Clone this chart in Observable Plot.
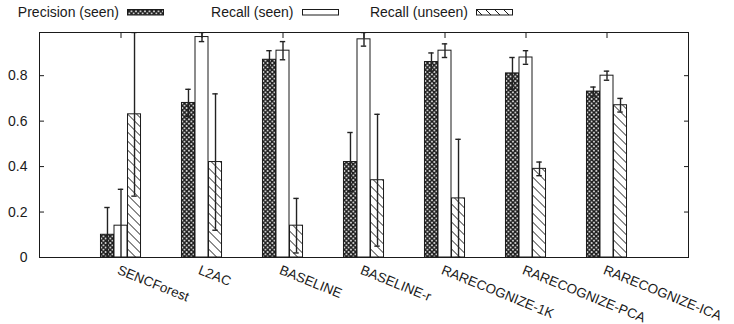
<!DOCTYPE html>
<html>
<head>
<meta charset="utf-8">
<script src="https://cdn.jsdelivr.net/npm/d3@7"></script>
<script src="https://cdn.jsdelivr.net/npm/@observablehq/plot@0.6"></script>
<style>
  body { margin: 0; background: white; }
  #wrap { position: relative; width: 734px; height: 324px; overflow: hidden; font-family: "Liberation Sans", Arial, Helvetica, sans-serif; color: #1a1a1a; }
  #legend { position: absolute; top: 0; left: 0; width: 734px; height: 26px; }
  .item { position: absolute; top: 4px; display: flex; align-items: center; font-size: 14px; line-height: 16px; white-space: nowrap; }
  .item svg { margin-left: 8px; }
</style>
</head>
<body>
<svg width="0" height="0" style="position:absolute">
  <defs>
    <pattern id="xhatch" patternUnits="userSpaceOnUse" width="4.5" height="4.5">
      <rect width="4.5" height="4.5" fill="white"/>
      <path d="M0,0L4.5,4.5M4.5,0L0,4.5" stroke="#1a1a1a" stroke-width="1.5"/>
    </pattern>
    <pattern id="dhatch" patternUnits="userSpaceOnUse" width="9" height="9">
      <rect width="9" height="9" fill="white"/>
      <path d="M0,0L9,9M-2,7L2,11M7,-2L11,2" stroke="#1a1a1a" stroke-width="1"/>
    </pattern>
  </defs>
</svg>
<div id="wrap">
  <div id="legend"></div>
  <div id="chart"></div>
</div>
<script>
// ---- data ----
const categories = ["SENCForest", "L2AC", "BASELINE", "BASELINE-r", "RARECOGNIZE-1K", "RARECOGNIZE-PCA", "RARECOGNIZE-ICA"];
const seriesNames = ["Precision (seen)", "Recall (seen)", "Recall (unseen)"];
const precisionSeen    = [0.10, 0.68, 0.87, 0.42, 0.86, 0.81, 0.73];
const precisionSeenErr = [0.12, 0.06, 0.04, 0.13, 0.04, 0.07, 0.02];
const recallSeen       = [0.14, 0.97, 0.91, 0.96, 0.91, 0.88, 0.80];
const recallSeenErr    = [0.16, 0.02, 0.04, 0.03, 0.03, 0.03, 0.02];
const recallUnseen     = [0.63, 0.42, 0.14, 0.34, 0.26, 0.39, 0.67];
const recallUnseenErr  = [0.36, 0.30, 0.12, 0.29, 0.26, 0.03, 0.03];
const yTicks = [0, 0.2, 0.4, 0.6, 0.8];
const yMax = 0.99;

// ---- table ----
const seriesValues = [precisionSeen, recallSeen, recallUnseen];
const seriesErrs = [precisionSeenErr, recallSeenErr, recallUnseenErr];
const rows = [];
seriesNames.forEach((s, j) => categories.forEach((c, i) => rows.push({
  category: c, series: s, j, value: seriesValues[j][i], err: seriesErrs[j][i]
})));

// ---- layout ----
const W = 734, H = 324, mL = 39, mR = 46, mT = 32, mB = 67;
const step = (W - mL - mR) / 8;
const bw = step / 6;
const fills = ["url(#xhatch)", "white", "url(#dhatch)"];
const ink = "#1a1a1a";

// ---- legend ----
const legend = document.getElementById("legend");
const rightEdges = [164, 338.5, 513];
seriesNames.forEach((s, j) => {
  const it = document.createElement("div");
  it.className = "item";
  it.style.right = (W - rightEdges[j]) + "px";
  it.innerHTML = `<span>${s}</span><svg width="37" height="7"><rect x="0.5" y="0.5" width="36" height="5.5" fill="${fills[j]}" stroke="${ink}" stroke-width="1"/></svg>`;
  legend.appendChild(it);
});

const sel = j => rows.filter(d => d.j === j);
const marks = [
  Plot.axisX({anchor: "bottom", tickSize: -5, tickFormat: () => "", label: null, stroke: ink}),
  ...seriesNames.map((s, j) => Plot.barY(sel(j), {
    x: "category", y: "value", dx: (j - 1) * bw, fill: fills[j], stroke: ink, strokeWidth: 1
  })),
  ...seriesNames.map((s, j) => Plot.ruleX(sel(j), {
    x: "category", y1: d => d.value - d.err, y2: d => d.value + d.err,
    dx: (j - 1) * bw, stroke: "#222", strokeWidth: 1.4, clip: true
  })),
  ...seriesNames.map((s, j) => Plot.tickY(sel(j), {
    x: "category", y: d => d.value + d.err, dx: (j - 1) * bw,
    insetLeft: 3.8, insetRight: 3.8, stroke: "#222", strokeWidth: 1.4, clip: true
  })),
  ...seriesNames.map((s, j) => Plot.tickY(sel(j), {
    x: "category", y: d => d.value - d.err, dx: (j - 1) * bw,
    insetLeft: 3.8, insetRight: 3.8, stroke: "#222", strokeWidth: 1.4, clip: true
  })),
  Plot.axisY({anchor: "left", ticks: yTicks, tickSize: -5, tickPadding: 17, tickFormat: d => String(d), label: null, fontSize: 14, stroke: ink, fill: ink}),
  Plot.axisY({anchor: "right", ticks: yTicks, tickSize: -5, tickFormat: () => "", label: null, stroke: ink}),
  Plot.axisX({anchor: "top", tickSize: -5, tickFormat: () => "", label: null, stroke: ink}),
  Plot.text(categories, {
    x: d => d, frameAnchor: "bottom", textAnchor: "start", lineAnchor: "top",
    rotate: 22, dy: 7, dx: -1, fontSize: 13.5, fill: ink
  }),
  Plot.frame({stroke: ink, strokeWidth: 1})
];

const chart = Plot.plot({
  width: W, height: H,
  marginLeft: mL, marginRight: mR, marginTop: mT, marginBottom: mB,
  style: {fontFamily: '"Liberation Sans", Arial, Helvetica, sans-serif', fontSize: "14px", background: "transparent", color: ink},
  x: {type: "band", domain: categories, paddingInner: 5 / 6, paddingOuter: 11 / 12, align: 0.5, axis: null},
  y: {domain: [0, yMax], axis: null},
  marks
});
document.getElementById("chart").appendChild(chart);
</script>
</body>
</html>
